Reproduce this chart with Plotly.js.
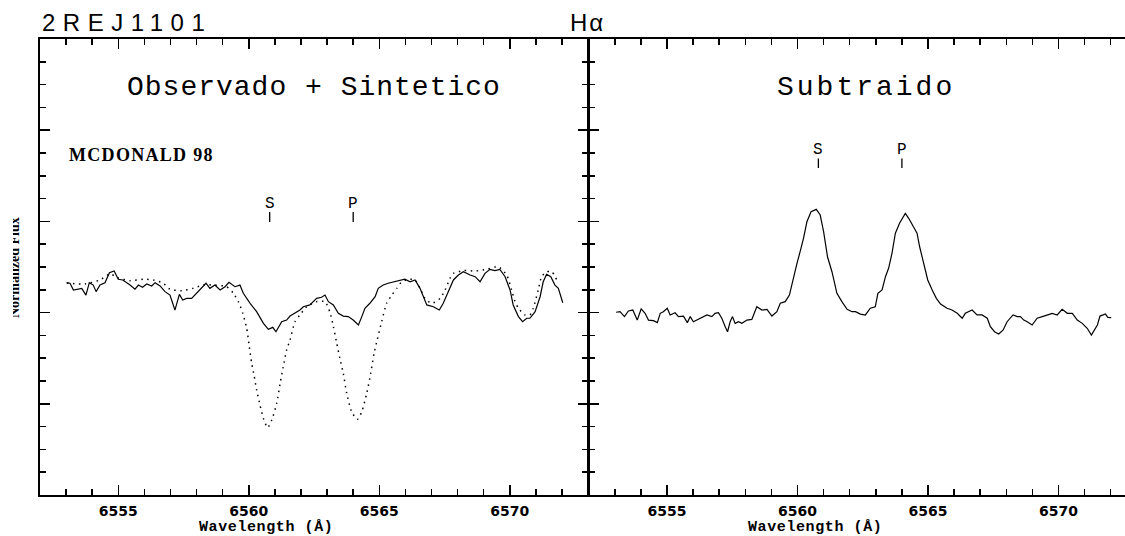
<!DOCTYPE html>
<html>
<head>
<meta charset="utf-8">
<script src="https://cdn.plot.ly/plotly-3.0.1.min.js"></script>
<style>
  html, body { margin: 0; padding: 0; overflow: hidden; background: #fff; }
  #chart { width: 1125px; height: 536px; }
  #edge { position: absolute; left: 0; top: 190px; width: 12.5px; height: 160px; background: #fff; }
</style>
</head>
<body>
<div id="chart"></div>
<div id="edge"></div>
<script>
// Observed H-alpha spectrum (McDonald 1998), normalized flux
const obsWave = [6553.02,6553.15,6553.28,6553.41,6553.60,6553.76,6553.89,6554.04,6554.15,6554.30,
  6554.49,6554.66,6554.84,6555.00,6555.17,6555.45,6555.64,6555.77,6555.93,6556.09,
  6556.28,6556.41,6556.60,6556.79,6556.98,6557.17,6557.34,6557.47,6557.62,6557.81,
  6558.00,6558.20,6558.36,6558.51,6558.70,6558.90,6559.09,6559.24,6559.47,6559.66,
  6559.79,6560.05,6560.30,6560.56,6560.75,6560.92,6561.04,6561.26,6561.45,6561.58,
  6561.77,6561.96,6562.09,6562.34,6562.60,6562.79,6562.92,6563.05,6563.24,6563.43,
  6563.62,6563.81,6564.00,6564.20,6564.33,6564.45,6564.64,6564.84,6564.96,6565.15,
  6565.34,6565.60,6565.79,6565.98,6566.18,6566.37,6566.56,6566.82,6567.07,6567.30,
  6567.45,6567.64,6567.84,6568.03,6568.22,6568.48,6568.67,6568.86,6569.05,6569.24,
  6569.43,6569.62,6569.82,6570.01,6570.13,6570.33,6570.49,6570.65,6570.77,6570.97,
  6571.16,6571.28,6571.41,6571.57,6571.73,6571.86,6572.03];
const obsFlux = [1.164,1.161,1.124,1.128,1.133,1.096,1.164,1.151,1.115,1.151,
  1.164,1.219,1.228,1.183,1.179,1.151,1.128,1.151,1.139,1.157,
  1.146,1.164,1.146,1.115,1.096,1.014,1.100,1.069,1.078,1.078,
  1.106,1.133,1.161,1.133,1.151,1.124,1.142,1.166,1.142,1.151,
  1.106,1.051,1.005,0.941,0.908,0.919,0.895,0.950,0.959,0.981,
  0.996,1.014,1.032,1.042,1.078,1.084,1.096,1.060,1.042,0.996,
  0.981,0.978,0.959,0.932,0.978,1.024,1.051,1.087,1.133,1.151,
  1.161,1.169,1.179,1.183,1.169,1.179,1.133,1.042,1.032,1.014,
  1.051,1.115,1.179,1.206,1.224,1.206,1.197,1.169,1.215,1.237,
  1.230,1.237,1.197,1.124,1.042,0.978,0.950,0.969,0.969,1.005,
  1.087,1.169,1.210,1.197,1.151,1.133,1.054];

// Synthetic spectrum (sum of the two broadened templates)
const synWave = [6553.03,6553.72,6554.30,6554.68,6554.99,6555.45,6555.96,6556.34,6556.72,6556.98,
  6557.43,6557.87,6558.25,6558.70,6559.15,6559.41,6559.60,6559.77,6559.92,6560.02,
  6560.11,6560.20,6560.30,6560.43,6560.56,6560.72,6560.88,6561.07,6561.20,6561.32,
  6561.45,6561.58,6561.77,6561.96,6562.22,6562.60,6562.92,6563.11,6563.24,6563.37,
  6563.49,6563.62,6563.75,6563.94,6564.16,6564.33,6564.52,6564.67,6564.80,6564.92,
  6565.09,6565.28,6565.48,6565.67,6565.86,6566.18,6566.37,6566.56,6566.75,6567.01,
  6567.33,6567.52,6567.71,6567.84,6568.22,6568.67,6569.11,6569.56,6569.88,6570.07,
  6570.20,6570.33,6570.58,6570.77,6570.90,6571.09,6571.22,6571.41,6571.61,6571.80];
const synFlux = [1.162,1.157,1.179,1.212,1.190,1.175,1.183,1.179,1.161,1.128,
  1.120,1.133,1.151,1.151,1.142,1.106,1.060,0.996,0.914,0.813,
  0.722,0.658,0.576,0.493,0.420,0.369,0.411,0.503,0.612,0.703,
  0.795,0.850,0.950,0.987,1.032,1.060,1.060,1.001,0.923,0.832,
  0.749,0.667,0.558,0.457,0.415,0.457,0.558,0.667,0.777,0.850,
  0.950,1.051,1.096,1.133,1.169,1.183,1.179,1.133,1.078,1.051,
  1.078,1.124,1.188,1.215,1.230,1.228,1.237,1.252,1.206,1.124,
  1.060,1.024,0.987,0.987,1.024,1.124,1.197,1.224,1.224,1.179];

// Observed minus synthetic: the H-alpha emission of both components
const subWave = [6553.05,6553.20,6553.37,6553.52,6553.69,6553.86,6554.01,6554.16,6554.29,6554.48,
  6554.63,6554.74,6554.86,6555.01,6555.12,6555.31,6555.44,6555.63,6555.78,6555.89,
  6556.01,6556.20,6556.40,6556.53,6556.72,6556.84,6556.97,6557.10,6557.23,6557.32,
  6557.42,6557.51,6557.61,6557.74,6557.87,6558.06,6558.25,6558.44,6558.64,6558.83,
  6559.02,6559.21,6559.34,6559.53,6559.69,6559.83,6559.98,6560.10,6560.23,6560.36,
  6560.52,6560.72,6560.87,6561.00,6561.15,6561.32,6561.51,6561.70,6561.90,6562.09,
  6562.22,6562.41,6562.60,6562.79,6562.98,6563.08,6563.24,6563.37,6563.49,6563.62,
  6563.75,6563.91,6564.04,6564.13,6564.26,6564.39,6564.58,6564.68,6564.83,6564.99,
  6565.16,6565.32,6565.48,6565.73,6565.92,6566.12,6566.31,6566.43,6566.69,6566.88,
  6567.07,6567.27,6567.39,6567.55,6567.71,6567.88,6568.03,6568.26,6568.42,6568.54,
  6568.67,6568.80,6568.99,6569.18,6569.38,6569.57,6569.76,6569.95,6570.14,6570.34,
  6570.53,6570.72,6570.91,6571.10,6571.26,6571.49,6571.59,6571.80,6571.89,6572.02];
const subFlux = [1.002,1.005,0.978,1.009,1.014,0.959,1.020,0.996,0.959,0.956,
  0.945,0.996,1.005,1.024,0.987,0.999,0.978,0.981,0.945,0.978,
  0.950,0.963,0.974,0.987,0.978,0.996,0.999,0.969,0.923,0.895,
  0.950,0.978,0.941,0.950,0.941,0.959,0.963,1.032,1.014,1.018,
  0.981,1.005,1.051,1.060,1.096,1.188,1.270,1.334,1.407,1.498,
  1.553,1.566,1.535,1.444,1.306,1.224,1.106,1.060,1.018,1.005,
  1.005,0.992,0.987,1.024,1.032,1.106,1.124,1.197,1.243,1.325,
  1.435,1.490,1.526,1.544,1.517,1.480,1.435,1.361,1.270,1.179,
  1.124,1.078,1.047,1.024,1.014,0.996,0.969,0.996,1.014,0.987,
  0.987,0.969,0.923,0.895,0.883,0.905,0.950,0.987,0.978,0.978,
  0.959,0.950,0.932,0.969,0.978,0.987,0.996,0.987,1.018,0.996,
  0.996,0.959,0.941,0.914,0.877,0.932,0.981,0.992,0.974,0.972];

// Components: secondary (S) and primary (P) line centres
const compLabels = ['S', 'P'];
const compWave = [6560.8, 6564.0];

const xTicks = [6555, 6560, 6565, 6570];
const xTickText = ['6555', '6560', '6565', '6570'];
const yTicks = [0, 0.5, 1.0, 1.5, 2.0, 2.5];

const W = 1125, H = 536;
const PXA = 26.1;                     // pixels per angstrom on both panels
const px = v => v / W;                // horizontal pixel -> paper
const py = v => 1 - v / H;            // vertical pixel -> paper

const axisBase = {
  showline: true, linecolor: '#000', linewidth: 2, mirror: 'allticks',
  ticks: 'inside', ticklen: 10, tickwidth: 1.5, tickcolor: '#000',
  showgrid: false, zeroline: false, fixedrange: true
};
const xAxis = (dom, anchor, rng) => Object.assign({}, axisBase, {
  domain: dom, anchor: anchor, range: rng,
  tickmode: 'array', tickvals: xTicks, ticktext: xTickText, ticklabelstandoff: 2,
  tickfont: { family: 'DejaVu Sans', size: 14, weight: 'bold', color: '#000' },
  minor: { dtick: 1, tick0: 6552, ticks: 'inside', ticklen: 6, tickwidth: 1.5, tickcolor: '#000', showgrid: false }
});
const yAxis = (anchor, mirror) => Object.assign({}, axisBase, {
  domain: [41 / H, 497 / H], anchor: anchor, range: [0, 2.5], mirror: mirror,
  tickmode: 'array', tickvals: yTicks, showticklabels: false,
  minor: { dtick: 0.125, tick0: 0, ticks: 'inside', ticklen: 6, tickwidth: 1.5, tickcolor: '#000', showgrid: false }
});

const traces = [
  { x: synWave, y: synFlux, xaxis: 'x', yaxis: 'y', type: 'scatter', mode: 'lines',
    line: { color: '#000', width: 1.5, dash: '1.5px,4.5px', shape: 'spline', smoothing: 0.6 }, hoverinfo: 'skip' },
  { x: obsWave, y: obsFlux, xaxis: 'x', yaxis: 'y', type: 'scatter', mode: 'lines',
    line: { color: '#000', width: 1.2 }, hoverinfo: 'skip' },
  { x: subWave, y: subFlux, xaxis: 'x2', yaxis: 'y2', type: 'scatter', mode: 'lines',
    line: { color: '#000', width: 1.2 }, hoverinfo: 'skip' }
];

const monoTitle = { family: 'Liberation Mono', size: 28, color: '#000' };
const markFont = { family: 'Liberation Mono', size: 16, color: '#000' };
const labelFont = { family: 'Liberation Mono', size: 15, weight: 'bold', color: '#000' };

const annotations = [
  { xref: 'paper', yref: 'paper', x: px(40), y: py(23), xanchor: 'left', yanchor: 'middle',
    text: '<span style="letter-spacing:7.5px">2REJ1101</span>', showarrow: false,
    font: { family: 'Liberation Sans', size: 24, color: '#000' } },
  { xref: 'paper', yref: 'paper', x: px(588), y: py(23), xanchor: 'center', yanchor: 'middle',
    text: '<span style="letter-spacing:2px">Hα</span>', showarrow: false,
    font: { family: 'Liberation Sans', size: 24, color: '#000' } },
  { xref: 'x domain', yref: 'paper', x: 0.5, y: py(87), xanchor: 'center', yanchor: 'middle',
    text: '<span style="letter-spacing:1px">Observado + Sintetico</span>', showarrow: false, font: monoTitle },
  { xref: 'x2 domain', yref: 'paper', x: (866 - 588.7) / (W - 588.7), y: py(87), xanchor: 'center', yanchor: 'middle',
    text: '<span style="letter-spacing:3px">Subtraido</span>', showarrow: false, font: monoTitle },
  { xref: 'x domain', yref: 'paper', x: 27 / 548, y: py(155), xanchor: 'left', yanchor: 'middle',
    text: '<span style="letter-spacing:1.3px">MCDONALD 98</span>', showarrow: false,
    font: { family: 'Liberation Serif', size: 18, weight: 'bold', color: '#000' } },
  { xref: 'paper', yref: 'paper', x: px(266), y: py(527.5), xanchor: 'center', yanchor: 'middle',
    text: '<span style="letter-spacing:0.6px">Wavelength (Å)</span>', showarrow: false, font: labelFont },
  { xref: 'paper', yref: 'paper', x: px(815), y: py(527.5), xanchor: 'center', yanchor: 'middle',
    text: '<span style="letter-spacing:0.6px">Wavelength (Å)</span>', showarrow: false, font: labelFont },
  { xref: 'paper', yref: 'paper', x: px(14), y: py(268), xanchor: 'center', yanchor: 'middle',
    textangle: -90, text: 'Normalized Flux', showarrow: false,
    font: { family: 'Liberation Serif', size: 14, weight: 'bold', color: '#000' } }
];

const shapes = [];
// component markers: left panel above the absorption features,
// right panel above the emission peaks
const markerRows = [
  { xr: 'x', yr: 'y', lo: 1.497, hi: 1.552, txt: 1.595 },
  { xr: 'x2', yr: 'y2', lo: 1.793, hi: 1.845, txt: 1.89 }
];
markerRows.forEach(r => {
  compWave.forEach((w, i) => {
    shapes.push({ type: 'line', xref: r.xr, yref: r.yr, x0: w, x1: w, y0: r.lo, y1: r.hi,
      line: { color: '#000', width: 1.3 } });
    annotations.push({ xref: r.xr, yref: r.yr, x: w, y: r.txt, xanchor: 'center', yanchor: 'middle',
      text: compLabels[i], showarrow: false, font: markFont });
  });
});

const leftDom = [40 / W, 588 / W];
const rightDom = [588.7 / W, 1];
const layout = {
  width: W, height: H,
  margin: { l: 0, r: 0, t: 0, b: 0, pad: 0 },
  paper_bgcolor: '#fff', plot_bgcolor: '#fff',
  showlegend: false,
  xaxis: xAxis(leftDom, 'y', [6552, 6552 + 548 / PXA]),
  yaxis: yAxis('x', 'allticks'),
  // the right panel runs past the page edge, so its far side is not drawn
  xaxis2: xAxis(rightDom, 'y2', [6552, 6552 + (W - 588.7) / PXA]),
  yaxis2: yAxis('x2', false),
  annotations: annotations,
  shapes: shapes
};

Plotly.newPlot('chart', traces, layout, { staticPlot: true, displayModeBar: false });
</script>
</body>
</html>
